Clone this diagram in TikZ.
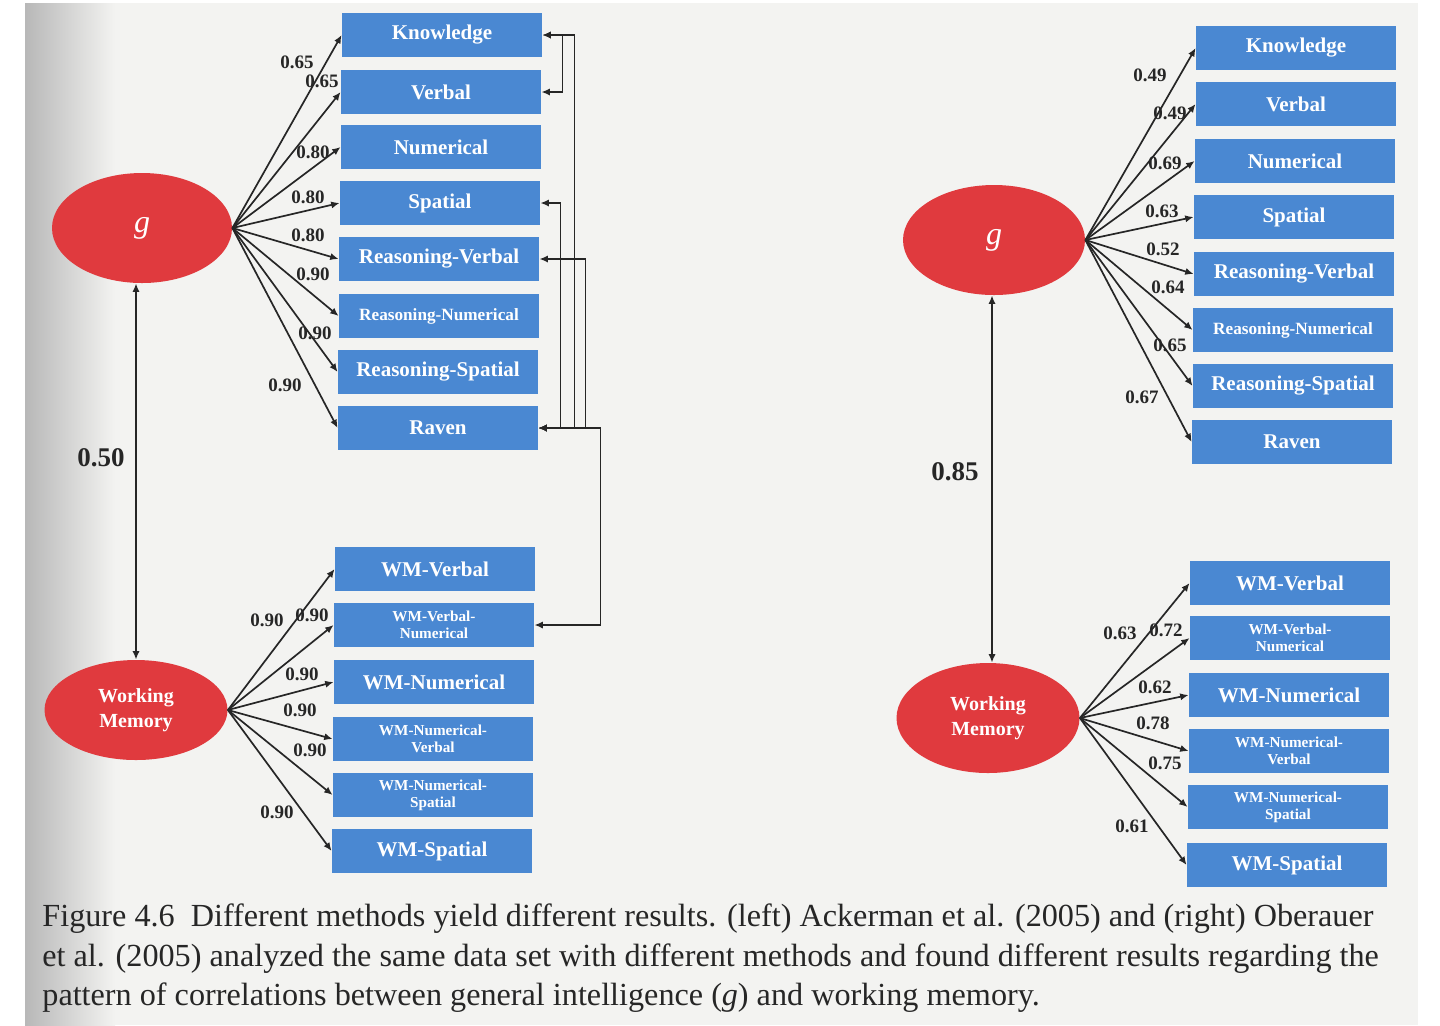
\documentclass[tikz,border=0pt]{standalone}
\usepackage{fontspec}
\setmainfont{Liberation Serif}
\usetikzlibrary{arrows.meta,shapes.geometric,calc}

\definecolor{boxblue}{RGB}{74,136,210}
\definecolor{ellred}{RGB}{224,58,62}
\definecolor{paper}{RGB}{243,243,241}
\definecolor{ink}{RGB}{38,38,38}

\tikzset{
 mbox/.style={fill=boxblue, minimum width=100pt, minimum height=22pt, inner sep=1pt, text=white, font=\bfseries\fontsize{10.5}{12}\selectfont, align=center},
 sbox/.style={mbox, font=\bfseries\fontsize{8.6}{10}\selectfont},
 tbox/.style={mbox, font=\bfseries\fontsize{7.6}{8.6}\selectfont},
 latent/.style={ellipse, fill=ellred, inner sep=0pt, text=white, align=center},
 tipd/.tip={Latex[length=4.2pt,width=3.6pt]},
 load/.style={draw=ink, line width=0.85pt, -tipd},
 corr/.style={draw=ink, line width=0.85pt, tipd-tipd},
 lab/.style={font=\bfseries\fontsize{9.5}{10}\selectfont, text=ink, inner sep=0.5pt},
 biglab/.style={font=\bfseries\fontsize{13.5}{14}\selectfont, text=ink, inner sep=0.5pt},
 captext/.style={font=\fontsize{16.1}{18}\selectfont, text=ink, inner sep=0pt, anchor=base west},
}

\begin{document}
\begin{tikzpicture}[x=0.5pt,y=-0.5pt]
\useasboundingbox (0,0) rectangle (1440,1025);
% page
\fill[white] (0,0) rectangle (1440,1025);
\fill[paper] (25,3) rectangle (1418,1025);
\shade[left color=black!28, right color=paper] (25,3) rectangle (115,1025);

% ---------- left model ----------
\node[latent, minimum width=90pt, minimum height=55pt, font=\itshape\fontsize{16}{16}\selectfont] (lg) at (142,228) {g};
\node[latent, minimum width=91.5pt, minimum height=50pt, font=\bfseries\fontsize{10}{12.5}\selectfont] (lwm) at (136,710) {Working\\Memory};

\node[mbox] (lK)  at (442,35)  {Knowledge};
\node[mbox] (lV)  at (441,92)  {Verbal};
\node[mbox] (lN)  at (441,147) {Numerical};
\node[mbox] (lS)  at (440,203) {Spatial};
\node[mbox] (lRV) at (439,259) {Reasoning-Verbal};
\node[sbox] (lRN) at (439,316) {Reasoning-Numerical};
\node[mbox] (lRS) at (438,372) {Reasoning-Spatial};
\node[mbox] (lRa) at (438,428) {Raven};

\node[mbox] (lW1) at (435,569) {WM-Verbal};
\node[tbox] (lW2) at (434,625) {WM-Verbal-\\Numerical};
\node[mbox] (lW3) at (434,682) {WM-Numerical};
\node[tbox] (lW4) at (433,739) {WM-Numerical-\\Verbal};
\node[tbox] (lW5) at (433,795) {WM-Numerical-\\Spatial};
\node[mbox] (lW6) at (432,851) {WM-Spatial};

\foreach \b in {lK,lV,lN,lS,lRV,lRN,lRS,lRa} \draw[load] (lg.east) -- (\b.west);
\foreach \b in {lW1,lW2,lW3,lW4,lW5,lW6} \draw[load] (lwm.east) -- (\b.west);
\draw[corr] (lwm.north) -- (lwm.north |- lg.south);

\draw[corr] (lK.east) -- ++(20,0) |- (lV.east);
\draw[corr] (lK.east) -| ($(lRa.east)+(36,0)$) -- (lRa.east);
\draw[corr] (lS.east) -| ($(lRa.east)+(22,0)$) -- (lRa.east);
\draw[corr] (lRV.east) -| ($(lRa.east)+(47,0)$) -- (lRa.east);
\draw[corr] (lRa.east) -- ++(62,0) |- (lW2.east);

\node[lab] (la1) at (297,62)  {0.65};
\node[lab] (la2) at (322,81)  {0.65};
\node[lab] (la3) at (313,152) {0.80};
\node[lab] (la4) at (308,197) {0.80};
\node[lab] (la5) at (308,235) {0.80};
\node[lab] (la6) at (313,274) {0.90};
\node[lab] (la7) at (315,333) {0.90};
\node[lab] (la8) at (285,385) {0.90};
\node[lab] (lb1) at (267,620) {0.90};
\node[lab] (lb2) at (312,615) {0.90};
\node[lab] (lb3) at (302,674) {0.90};
\node[lab] (lb4) at (300,710) {0.90};
\node[lab] (lb5) at (310,750) {0.90};
\node[lab] (lb6) at (277,812) {0.90};
\node[biglab] (lc) at (101,458) {0.50};

% ---------- right model ----------
\node[latent, minimum width=91pt, minimum height=55pt, font=\itshape\fontsize{16}{16}\selectfont] (rg) at (994,240) {g};
\node[latent, minimum width=91.5pt, minimum height=55pt, font=\bfseries\fontsize{10}{12.5}\selectfont] (rwm) at (988,718) {Working\\Memory};

\node[mbox] (rK)  at (1296,48)  {Knowledge};
\node[mbox] (rV)  at (1296,104) {Verbal};
\node[mbox] (rN)  at (1295,161) {Numerical};
\node[mbox] (rS)  at (1294,217) {Spatial};
\node[mbox] (rRV) at (1294,274) {Reasoning-Verbal};
\node[sbox] (rRN) at (1293,330) {Reasoning-Numerical};
\node[mbox] (rRS) at (1293,386) {Reasoning-Spatial};
\node[mbox] (rRa) at (1292,442) {Raven};

\node[mbox] (rW1) at (1290,583) {WM-Verbal};
\node[tbox] (rW2) at (1290,638) {WM-Verbal-\\Numerical};
\node[mbox] (rW3) at (1289,695) {WM-Numerical};
\node[tbox] (rW4) at (1289,751) {WM-Numerical-\\Verbal};
\node[tbox] (rW5) at (1288,807) {WM-Numerical-\\Spatial};
\node[mbox] (rW6) at (1287,865) {WM-Spatial};

\foreach \b in {rK,rV,rN,rS,rRV,rRN,rRS,rRa} \draw[load] (rg.east) -- (\b.west);
\foreach \b in {rW1,rW2,rW3,rW4,rW5,rW6} \draw[load] (rwm.east) -- (\b.west);
\draw[corr] (rwm.north) ++(4,0) coordinate (rtop) -- (rtop |- rg.south);

\node[lab] (ra1) at (1150,75)  {0.49};
\node[lab] (ra2) at (1170,113) {0.49};
\node[lab] (ra3) at (1165,163) {0.69};
\node[lab] (ra4) at (1162,211) {0.63};
\node[lab] (ra5) at (1163,249) {0.52};
\node[lab] (ra6) at (1168,287) {0.64};
\node[lab] (ra7) at (1170,345) {0.65};
\node[lab] (ra8) at (1142,397) {0.67};
\node[lab] (rb1) at (1120,633) {0.63};
\node[lab] (rb2) at (1166,630) {0.72};
\node[lab] (rb3) at (1155,687) {0.62};
\node[lab] (rb4) at (1153,723) {0.78};
\node[lab] (rb5) at (1165,763) {0.75};
\node[lab] (rb6) at (1132,826) {0.61};
\node[biglab] (rc) at (955,472) {0.85};

% ---------- caption ----------
\node[captext] (c1) at (42,926) {Figure 4.6\enspace Different methods yield different results. (left) Ackerman et al. (2005) and (right) Oberauer};
\node[captext] (c2) at (42,966) {et al. (2005) analyzed the same data set with different methods and found different results regarding the};
\node[captext] (c3) at (42,1005) {pattern of correlations between general intelligence (\textit{g}) and working memory.};
\end{tikzpicture}
\end{document}
